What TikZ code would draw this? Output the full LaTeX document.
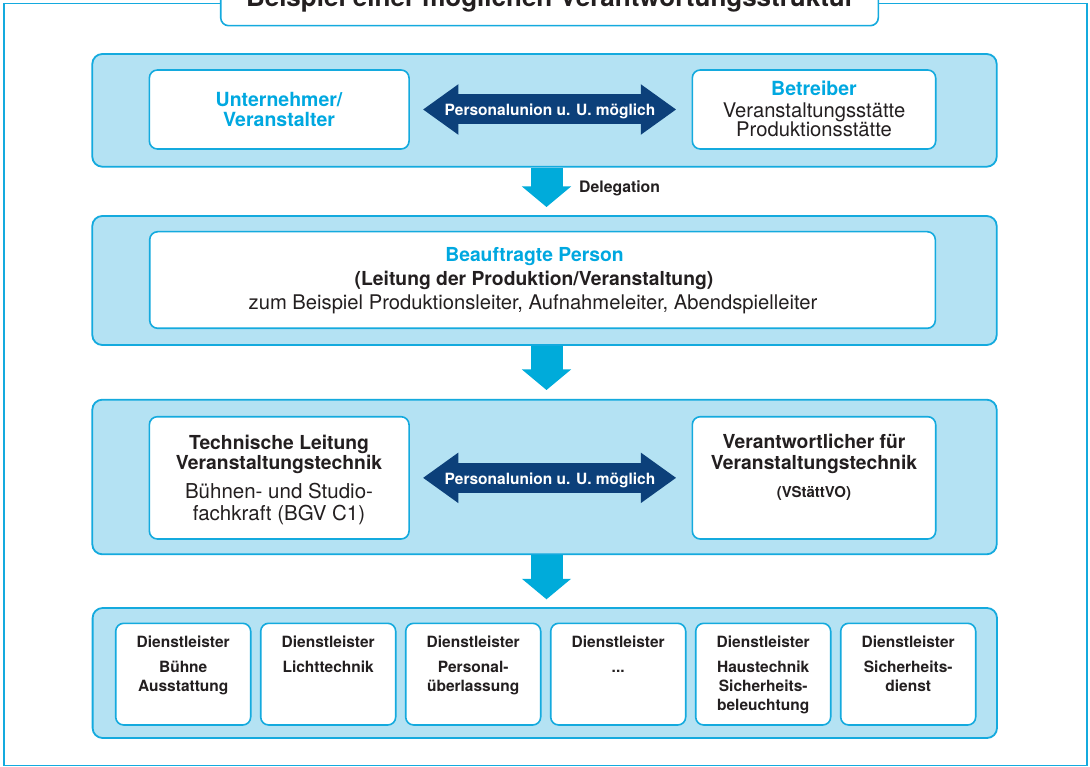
\documentclass[tikz,border=0pt]{standalone}
\usepackage{fontspec}
\setmainfont{TeX Gyre Heros}
\usetikzlibrary{arrows.meta}
\definecolor{cyanline}{RGB}{20,170,222}
\definecolor{bandfill}{RGB}{180,226,243}
\definecolor{darkblue}{RGB}{12,64,122}
\definecolor{arrowcyan}{RGB}{0,171,218}
\definecolor{bluetxt}{RGB}{0,168,224}
\definecolor{txtblack}{RGB}{35,31,32}
\newcommand\fsz[1]{\fontsize{#1}{#1}\selectfont}
\tikzset{
  bandbox/.style={draw=cyanline, fill=bandfill, line width=1.8pt, rounded corners=10pt, inner sep=0pt},
  innerbox/.style={draw=cyanline, fill=white, line width=1.6pt, rounded corners=8pt, inner sep=0pt},
  lbl/.style={inner sep=0pt, anchor=base, text=txtblack},
  hd/.style={lbl, font=\bfseries\fsz{19.3}},
  bl/.style={lbl, text=bluetxt, font=\bfseries\fsz{19.5}},
  rg/.style={lbl, font=\fsz{20.2}},
  dl/.style={lbl, font=\bfseries\fsz{15.5}},
  dblarrow/.style={draw=darkblue, line width=30pt,
    {Triangle[length=35.5pt,width=48pt]}-{Triangle[length=35.5pt,width=48pt]}},
  dnarrow/.style={draw=arrowcyan, line width=32pt, -{Triangle[length=20.5pt,width=48pt]}},
  arrtxt/.style={lbl, text=white, font=\bfseries\fsz{15.5}}
}
\begin{document}
\begin{tikzpicture}[x=1pt,y=-1pt]
\useasboundingbox (0,0) rectangle (1090,767);
\clip (0,0) rectangle (1090,767);
\fill[white] (0,0) rectangle (1090,767);
% outer frame and title
\draw[cyanline, line width=1.8pt] (4,3.5) rectangle (1087,765.5);
\node[innerbox, minimum width=657.6pt, minimum height=60pt] (titlebox) at (549.5,-4.3) {};
\node[lbl, font=\bfseries\fsz{26}] (title) at (550.5,6.7) {Beispiel einer möglichen Verantwortungsstruktur};
% bands
\node[bandbox, minimum width=904.4pt, minimum height=112.7pt] (band1) at (544.5,110.35) {};
\node[bandbox, minimum width=904.4pt, minimum height=129pt] (band2) at (544.5,280.5) {};
\node[bandbox, minimum width=904.4pt, minimum height=154.6pt] (band3) at (544.5,477) {};
\node[bandbox, minimum width=904.4pt, minimum height=130pt] (band4) at (544.8,673) {};
% band 1
\node[innerbox, minimum width=259.7pt, minimum height=79pt] (unt) at (279.2,109.5) {};
\node[innerbox, minimum width=243.4pt, minimum height=79pt] (betr) at (814,109.5) {};
\node[bl] (untA) at (279,107) {Unternehmer/};
\node[bl] (untB) at (279,127) {Veranstalter};
\node[bl] (betrA) at (814,95.5) {Betreiber};
\node[rg] (betrB) at (814,117.5) {Veranstaltungsstätte};
\node[rg] (betrC) at (814,137) {Produktionsstätte};
\draw[dblarrow, shorten <=13pt, shorten >=15.2pt] (unt.east) -- (betr.west);
\node[arrtxt] (pu1) at (550,116) {Personalunion u. U. möglich};
% band 2
\node[innerbox, minimum width=785.6pt, minimum height=96.6pt] (beauf) at (542.5,280) {};
\node[lbl, text=bluetxt, font=\bfseries\fsz{19.3}] (beaufA) at (534.5,261.5) {Beauftragte Person};
\node[hd] (beaufB) at (534,286) {(Leitung der Produktion/Veranstaltung)};
\node[rg] (beaufC) at (533,309.5) {zum Beispiel Produktionsleiter, Aufnahmeleiter, Abendspielleiter};
% band 3
\node[innerbox, minimum width=259.7pt, minimum height=122.3pt] (tech) at (279.2,477.85) {};
\node[innerbox, minimum width=243.4pt, minimum height=122.3pt] (vert) at (814,477.85) {};
\node[hd] (techA) at (279,449) {Technische Leitung};
\node[hd] (techB) at (279,469.5) {Veranstaltungstechnik};
\node[lbl, font=\fsz{20.5}] (techC) at (279,498.5) {Bühnen- und Studio-};
\node[lbl, font=\fsz{20.5}] (techD) at (279,520.5) {fachkraft (BGV C1)};
\node[hd] (vertA) at (814,448.5) {Verantwortlicher für};
\node[hd] (vertB) at (814,469.5) {Veranstaltungstechnik};
\node[lbl, font=\bfseries\fsz{15}] (vertC) at (814,497.5) {(VStättVO)};
\draw[dblarrow, shorten <=13pt, shorten >=15.2pt] (tech.east) -- (vert.west);
\node[arrtxt] (pu2) at (550,484.3) {Personalunion u. U. möglich};
% band 4
\foreach \i/\x in {1/183.2, 2/328.2, 3/473.2, 4/618.2, 5/763.2, 6/908.2}{
  \node[innerbox, minimum width=135pt, minimum height=101.7pt] (dl\i) at (\x,674.15) {};
  \node[dl] (dlh\i) at (\x,647.3) {Dienstleister};
}
\node[dl] (dl1a) at (183.2,672.8) {Bühne};
\node[dl] (dl1b) at (183.2,691.7) {Ausstattung};
\node[dl] (dl2a) at (328.2,672.8) {Lichttechnik};
\node[dl] (dl3a) at (473.2,672.8) {Personal-};
\node[dl] (dl3b) at (473.2,691.7) {überlassung};
\node[dl] (dl4a) at (618.2,672.8) {...};
\node[dl] (dl5a) at (763.2,672.8) {Haustechnik};
\node[dl] (dl5b) at (763.2,691.7) {Sicherheits-};
\node[dl] (dl5c) at (763.2,710) {beleuchtung};
\node[dl] (dl6a) at (908.2,672.8) {Sicherheits-};
\node[dl] (dl6b) at (908.2,691.7) {dienst};
% down arrows
\coordinate (d1) at (546.5,207);
\coordinate (d2) at (546.5,390);
\coordinate (d3) at (546.5,599.3);
\draw[dnarrow] (band1.south -| d1) -- (d1);
\draw[dnarrow] (band2.south -| d2) -- (d2);
\draw[dnarrow] (band3.south -| d3) -- (d3);
\node[lbl, anchor=base west, font=\bfseries\fsz{15.8}] (deleg) at (579,192.3) {Delegation};
\end{tikzpicture}
\end{document}
